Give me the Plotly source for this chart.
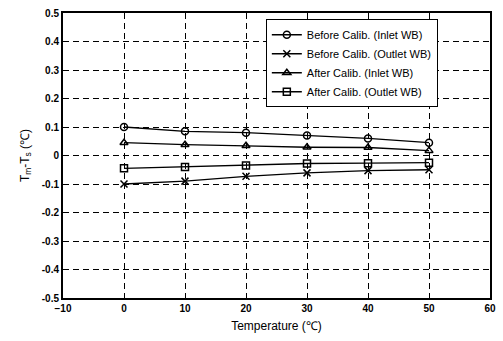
import plotly.graph_objects as go

temps = [0, 10, 20, 30, 40, 50]
before_inlet = [0.10, 0.085, 0.08, 0.07, 0.06, 0.045]
before_outlet = [-0.10, -0.09, -0.073, -0.061, -0.053, -0.05]
after_inlet = [0.045, 0.038, 0.034, 0.029, 0.028, 0.017]
after_outlet = [-0.045, -0.04, -0.035, -0.028, -0.027, -0.025]

names = ["Before Calib. (Inlet WB)", "Before Calib. (Outlet WB)",
         "After Calib. (Inlet WB)", "After Calib. (Outlet WB)"]
series = [before_inlet, before_outlet, after_inlet, after_outlet]
symbols = ["circle-open", "x-thin-open", "triangle-up-open", "square-open"]

x_ticks = [-10, 0, 10, 20, 30, 40, 50, 60]
y_ticks = [-0.5, -0.4, -0.3, -0.2, -0.1, 0, 0.1, 0.2, 0.3, 0.4, 0.5]
y_tick_labels = ["-0.5", "-0.4", "-0.3", "-0.2", "-0.1", "0", "0.1", "0.2", "0.3", "0.4", "0.5"]

fig = go.Figure()
for n, s, sym in zip(names, series, symbols):
    fig.add_trace(go.Scatter(
        x=temps, y=s, name=n, mode="lines+markers",
        line=dict(color="black", width=1.3),
        marker=dict(symbol=sym, size=7, color="black",
                    line=dict(color="black", width=1.5)),
    ))

font_family = "Liberation Sans, Arial, sans-serif"
grid = dict(showgrid=True, gridcolor="black", griddash="6px,4px", gridwidth=1,
            showline=True, linecolor="black", linewidth=2, mirror=True,
            zeroline=False, ticks="", ticklabeloverflow="allow",
            tickfont=dict(size=10, family=font_family, weight="bold"))
fig.update_layout(
    width=503, height=341,
    margin=dict(l=63, r=7, t=10, b=43),
    paper_bgcolor="white", plot_bgcolor="white",
    font=dict(family=font_family, color="black", size=10),
    showlegend=True,
    legend=dict(x=0.475, y=0.978, xanchor="left", yanchor="top",
                bordercolor="black", borderwidth=1, bgcolor="white",
                font=dict(size=11, family=font_family), tracegroupgap=0,
                itemwidth=30),
    xaxis=dict(range=[-10, 60], tickvals=x_ticks,
               title=dict(text="Temperature (℃)", font=dict(size=12), standoff=9),
               **grid),
    yaxis=dict(range=[-0.5, 0.5], tickvals=y_ticks, ticktext=y_tick_labels,
               title=dict(text="T<sub>m</sub>-T<sub>s</sub> (℃)", font=dict(size=12), standoff=10),
               **grid),
)

fig.write_html("out.html", config={"displayModeBar": False},
               post_script="document.body.style.margin='0';document.body.style.overflow='hidden';")
